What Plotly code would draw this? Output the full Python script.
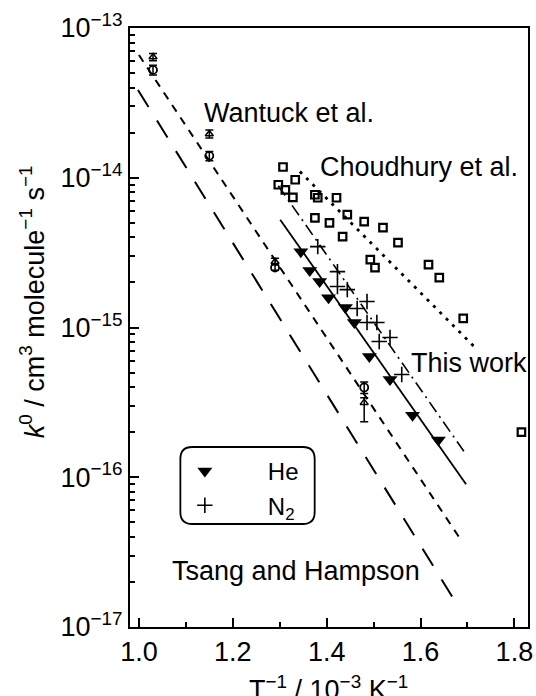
import plotly.graph_objects as go

# ---------------- data ----------------
# This work, He bath gas (filled down triangles)
he_x = [1.345, 1.364, 1.385, 1.404, 1.440, 1.459, 1.491, 1.535, 1.583, 1.638]
he_k = [3.21e-15, 2.40e-15, 2.03e-15, 1.58e-15, 1.36e-15, 1.08e-15, 6.41e-16, 4.50e-16, 2.59e-16, 1.77e-16]

# This work, N2 bath gas (crosses)
n2_x = [1.381, 1.423, 1.423, 1.444, 1.486, 1.465, 1.486, 1.507, 1.512, 1.535, 1.560]
n2_k = [3.47e-15, 2.36e-15, 1.88e-15, 1.79e-15, 1.49e-15, 1.34e-15, 1.08e-15, 1.08e-15, 8.07e-16, 8.57e-16, 4.86e-16]

# Choudhury et al. (open squares)
ch_x = [1.307, 1.333, 1.297, 1.312, 1.328, 1.375, 1.381, 1.421, 1.375, 1.406, 1.444,
        1.480, 1.434, 1.520, 1.552, 1.493, 1.503, 1.617, 1.640, 1.691, 1.815]
ch_k = [1.18e-14, 9.7e-15, 8.98e-15, 8.3e-15, 7.4e-15, 7.7e-15, 7.35e-15, 7.35e-15, 5.4e-15, 5.0e-15, 5.67e-15,
        5.09e-15, 4.04e-15, 4.64e-15, 3.69e-15, 2.84e-15, 2.51e-15, 2.63e-15, 2.15e-15, 1.15e-15, 2.0e-16]

# Wantuck et al. (open symbols with error bars)
wt_tri_x = [1.03, 1.15, 1.29, 1.48]
wt_tri_k = [6.4e-14, 1.96e-14, 2.75e-15, 3.15e-16]
wt_tri_ep = [0.35e-14, 0.12e-14, 0.15e-15, 0.25e-16]
wt_tri_em = [0.35e-14, 0.12e-14, 0.10e-15, 0.80e-16]
wt_sq_x = [1.03, 1.15, 1.29, 1.48]
wt_sq_k = [5.25e-14, 1.40e-14, 2.51e-15, 3.98e-16]
wt_sq_e = [0.40e-14, 0.10e-14, 0.10e-15, 0.35e-16]

# fitted / recommended lines
fit_he_x = [1.301, 1.697]
fit_he_k = [5.25e-15, 8.98e-17]
fit_n2_x = [1.297, 1.697]
fit_n2_k = [8.85e-15, 1.42e-16]
fit_ch_x = [1.343, 1.714]
fit_ch_k = [1.10e-14, 7.47e-16]
fit_wt_x = [1.000, 1.684]
fit_wt_k = [6.6e-14, 3.9e-17]
fit_th_x = [0.998, 1.680]
fit_th_k = [3.86e-14, 1.38e-17]

x_ticks = [1.0, 1.2, 1.4, 1.6, 1.8]
x_ticktext = ["1.0", "1.2", "1.4", "1.6", "1.8"]
x_minor = [1.1, 1.3, 1.5, 1.7]
y_exps = [-17, -16, -15, -14, -13]

# ---------------- layout helpers ----------------
W, H = 536, 696
L, R, T, B = 130, 533, 28, 627
FONT = "Liberation Sans, Arial, sans-serif"
FS = 27


def px2paper(px, py):
    return (px - L) / (R - L), (B - py) / (B - T)


fig = go.Figure()

line_w = 2
fig.add_trace(go.Scatter(x=fit_th_x, y=fit_th_k, mode="lines", showlegend=False,
                         line=dict(color="black", width=line_w, dash="20px,16px")))
fig.add_trace(go.Scatter(x=fit_wt_x, y=fit_wt_k, mode="lines", showlegend=False,
                         line=dict(color="black", width=line_w, dash="8px,7px")))
fig.add_trace(go.Scatter(x=fit_ch_x, y=fit_ch_k, mode="lines", showlegend=False,
                         line=dict(color="black", width=2.8, dash="3px,6px")))
fig.add_trace(go.Scatter(x=fit_n2_x, y=fit_n2_k, mode="lines", showlegend=False,
                         line=dict(color="black", width=1.6, dash="12px,5px,2px,5px")))
fig.add_trace(go.Scatter(x=fit_he_x, y=fit_he_k, mode="lines", showlegend=False,
                         line=dict(color="black", width=1.8)))

fig.add_trace(go.Scatter(x=ch_x, y=ch_k, mode="markers", showlegend=False,
                         marker=dict(symbol="square-open", size=7.5, color="black",
                                     line=dict(width=2.2, color="black"))))

fig.add_trace(go.Scatter(x=wt_tri_x, y=wt_tri_k, mode="markers", showlegend=False,
                         marker=dict(symbol="triangle-up-open", size=7, color="black",
                                     line=dict(width=1.5, color="black")),
                         error_y=dict(type="data", array=wt_tri_ep, arrayminus=wt_tri_em,
                                      color="black", thickness=1.5, width=4)))
fig.add_trace(go.Scatter(x=wt_sq_x, y=wt_sq_k, mode="markers", showlegend=False,
                         marker=dict(symbol="circle-open", size=8, color="black",
                                     line=dict(width=1.8, color="black")),
                         error_y=dict(type="data", array=wt_sq_e, color="black",
                                      thickness=1.5, width=4)))

fig.add_trace(go.Scatter(x=he_x, y=he_k, mode="markers", name="He",
                         marker=dict(symbol="triangle-down", size=13, color="black")))
fig.add_trace(go.Scatter(x=n2_x, y=n2_k, mode="markers", name="N<sub>2</sub>",
                         marker=dict(symbol="cross-thin", size=11, color="black",
                                     line=dict(width=1.6, color="black"))))

# ---------------- text labels ----------------
def ann(text, x, y, **kw):
    d = dict(text=text, x=x, y=y, showarrow=False, font=dict(family=FONT, size=FS, color="black"))
    d.update(kw)
    fig.add_annotation(**d)


ann("Wantuck et al.", 1.135, -13.567, xanchor="left", yanchor="middle")
ann("Choudhury et al.", 1.381, -13.927, xanchor="left", yanchor="middle")
ann("This work", 1.575, -15.24, xanchor="left", yanchor="middle")
ann("Tsang and Hampson", 1.067, -16.627, xanchor="left", yanchor="middle")

# axis titles
xp, yp = px2paper(331, 688)
ann("T<sup>−1</sup> / 10<sup>−3</sup> K<sup>−1</sup>", xp, yp, xref="paper", yref="paper",
    xanchor="center", yanchor="middle")
xp, yp = px2paper(31, 302)
ann("<i>k</i><sup>0</sup> / cm<sup>3</sup> molecule<sup>−1</sup> s<sup>−1</sup>", xp, yp,
    xref="paper", yref="paper", xanchor="center", yanchor="middle", textangle=-90)

# rounded legend box
bx0, by0, bx1, by1, rr = 181, 447, 317, 524, 12
def P(px, py):
    a, b = px2paper(px, py)
    return f"{a:.5f},{b:.5f}"
path = (f"M {P(bx0 + rr, by0)} L {P(bx1 - rr, by0)} Q {P(bx1, by0)} {P(bx1, by0 + rr)} "
        f"L {P(bx1, by1 - rr)} Q {P(bx1, by1)} {P(bx1 - rr, by1)} "
        f"L {P(bx0 + rr, by1)} Q {P(bx0, by1)} {P(bx0, by1 - rr)} "
        f"L {P(bx0, by0 + rr)} Q {P(bx0, by0)} {P(bx0 + rr, by0)} Z")
fig.add_shape(type="path", path=path, xref="paper", yref="paper",
              line=dict(color="black", width=1.8), fillcolor="white", layer="below")

lx, ly = px2paper(142, 449)

minor_y = [m * 10.0 ** e for e in y_exps[:-1] for m in range(2, 10)]

fig.update_layout(
    width=W, height=H,
    margin=dict(l=L, r=W - R, t=T, b=H - B),
    paper_bgcolor="white", plot_bgcolor="white",
    font=dict(family=FONT, size=FS, color="black"),
    legend=dict(x=lx, y=ly, xanchor="left", yanchor="top", bgcolor="rgba(0,0,0,0)",
                borderwidth=0, itemwidth=116, font=dict(family=FONT, size=24, color="black"),
                tracegroupgap=0),
    xaxis=dict(range=[0.981, 1.829], tickmode="array", tickvals=x_ticks, ticktext=x_ticktext,
               ticks="inside", ticklen=9, tickwidth=2, tickcolor="black",
               showline=True, linewidth=2, linecolor="black", mirror=True,
               showgrid=False, zeroline=False, ticklabeloverflow="allow",
               tickfont=dict(family=FONT, size=FS, color="black"),
               minor=dict(tickmode="array", tickvals=x_minor, ticks="inside", ticklen=5,
                          tickwidth=2, tickcolor="black", showgrid=False)),
    yaxis=dict(type="log", range=[-17, -13], tickmode="array",
               tickvals=[10.0 ** e for e in y_exps],
               ticktext=[f"10<sup>−{-e}</sup>" for e in y_exps],
               ticks="inside", ticklen=9, tickwidth=2, tickcolor="black",
               showline=True, linewidth=2, linecolor="black", mirror=True,
               showgrid=False, zeroline=False, ticklabeloverflow="allow",
               tickfont=dict(family=FONT, size=FS, color="black"),
               minor=dict(tickmode="array", tickvals=minor_y, ticks="inside", ticklen=5,
                          tickwidth=1.5, tickcolor="black", showgrid=False)),
)

fig.write_html("out.html")
